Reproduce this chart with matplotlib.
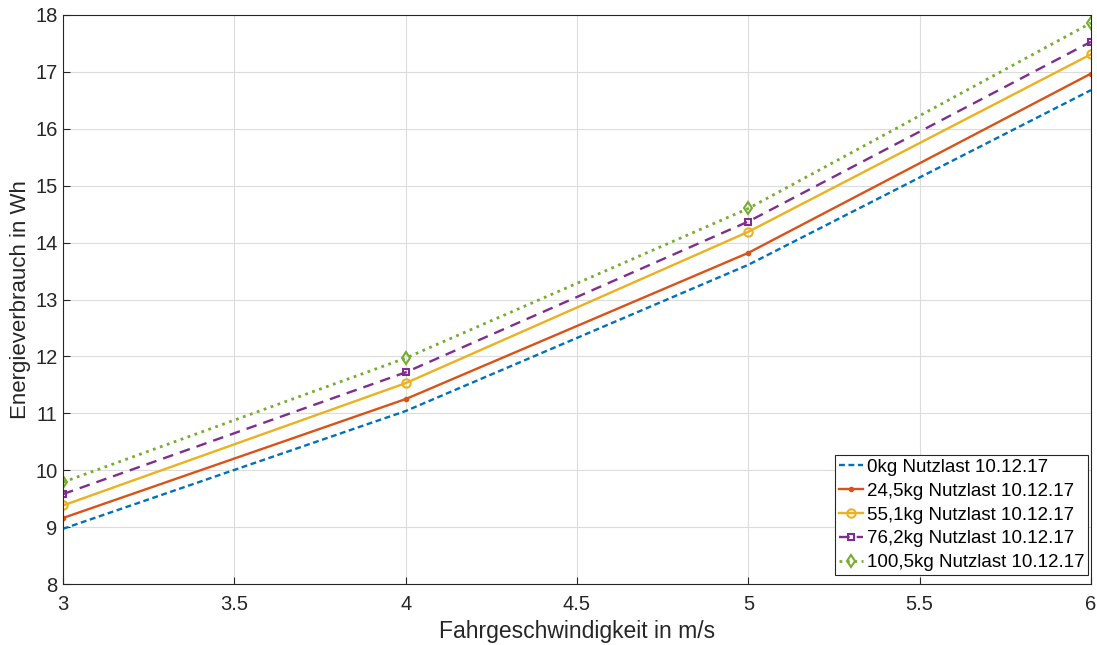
import matplotlib.pyplot as plt

# Energy consumption vs speed, per payload
speed = [3, 4, 5, 6]
e_0 = [8.97, 11.04, 13.61, 16.68]
e_245 = [9.16, 11.25, 13.82, 16.97]
e_551 = [9.38, 11.53, 14.19, 17.31]
e_762 = [9.58, 11.72, 14.37, 17.53]
e_1005 = [9.79, 11.97, 14.60, 17.86]
labels = ['0kg Nutzlast 10.12.17', '24,5kg Nutzlast 10.12.17', '55,1kg Nutzlast 10.12.17',
          '76,2kg Nutzlast 10.12.17', '100,5kg Nutzlast 10.12.17']

plt.rcParams['font.family'] = ['Liberation Sans', 'DejaVu Sans']

fig = plt.figure(figsize=(10.97, 6.45), dpi=100)
ax = fig.add_axes([63/1097, 1 - 584/645, (1091-63)/1097, (584-15)/645])

ax.plot(speed, e_0, '--', color='#0072BD', lw=1.7, dashes=(2.5, 1.5), label=labels[0])
ax.plot(speed, e_245, '-', color='#D95319', lw=1.7, marker='.', ms=6, label=labels[1])
ax.plot(speed, e_551, '-', color='#EDB120', lw=1.7, marker='o', ms=6, mfc='none', mew=1.5, label=labels[2])
ax.plot(speed, e_762, '--', color='#7E2F8E', lw=1.7, dashes=(4.5, 3), marker='s', ms=5, mfc='none', mew=1.5, label=labels[3])
ax.plot(speed, e_1005, ':', color='#77AC30', lw=2, marker='d', ms=6.5, mfc='none', mew=1.5, label=labels[4])

ax.set_xlim(3, 6)
ax.set_ylim(8, 18)
ax.set_xticks([3, 3.5, 4, 4.5, 5, 5.5, 6])
ax.set_xticklabels(['3', '3.5', '4', '4.5', '5', '5.5', '6'])
ax.set_yticks(range(8, 19))
ax.grid(True, color='#dcdcdc', lw=0.8)
ax.set_axisbelow(True)
ax.tick_params(direction='in', labelsize=14.5, length=5, color='#262626', labelcolor='#262626')
ax.tick_params(axis='y', pad=4)
ax.tick_params(axis='x', pad=8)
for s in ax.spines.values():
    s.set_color('#262626')
    s.set_linewidth(0.8)

ax.set_xlabel('Fahrgeschwindigkeit in m/s', fontsize=16.5, color='#262626', labelpad=4)
ax.set_ylabel('Energieverbrauch in Wh', fontsize=16, color='#262626', labelpad=3)

leg = ax.legend(loc='lower right', bbox_to_anchor=(1088/1097, 1 - 575/645), bbox_transform=fig.transFigure,
                fontsize=13.5, fancybox=False, framealpha=1, edgecolor='#262626',
                borderpad=0.2, labelspacing=0.36, handlelength=1.3, handletextpad=0.2,
                borderaxespad=0)
leg.get_frame().set_linewidth(0.8)

fig.savefig('out.png', dpi=100)
